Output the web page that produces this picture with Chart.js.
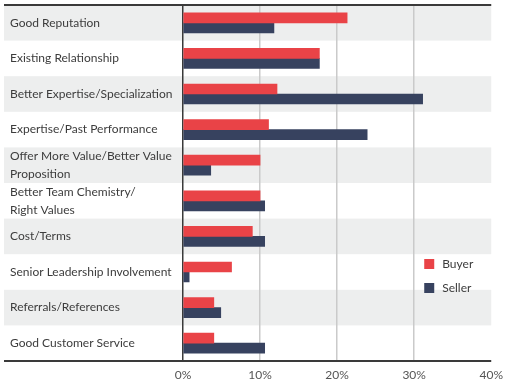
<!DOCTYPE html>
<html>
<head>
<meta charset="utf-8">
<script src="https://cdn.jsdelivr.net/npm/chart.js@4"></script>
<style>
  html, body { margin: 0; padding: 0; background: #fff; }
  #wrap { width: 510px; height: 386px; }
</style>
</head>
<body>
<div id="wrap"><canvas id="chart"></canvas></div>
<script>
const CATEGORIES = [
  'Good Reputation',
  'Existing Relationship',
  'Better Expertise/Specialization',
  'Expertise/Past Performance',
  ['Offer More Value/Better Value', 'Proposition'],
  ['Better Team Chemistry/', 'Right Values'],
  'Cost/Terms',
  'Senior Leadership Involvement',
  'Referrals/References',
  'Good Customer Service',
];
const BUYER  = [21.3, 17.7, 12.2, 11.1, 10.0, 10.0, 9.0, 6.3, 4.0, 4.0];
const SELLER = [11.8, 17.7, 31.1, 23.9, 3.6, 10.6, 10.6, 0.8, 4.9, 10.6];
const X_TICKS = [0, 10, 20, 30, 40];

const RED   = '#e94347';
const NAVY  = '#37425f';
const BAND  = '#edeeee';
const LINE  = '#3a3a3a';
const TEXT  = '#3c3c3c';
const FONT  = { family: 'Lato', size: 12 };

// alternating grey row bands + frame lines
const bandsPlugin = {
  id: 'bands',
  beforeDraw(chart) {
    const { ctx, chartArea, scales } = chart;
    const y = scales.y;
    const step = y.height / CATEGORIES.length;
    ctx.save();
    ctx.fillStyle = BAND;
    CATEGORIES.forEach((c, i) => {
      if (i % 2 === 0) {
        const cy = y.getPixelForValue(i);
        ctx.fillRect(4, cy - step / 2, chartArea.right - 4, step);
      }
    });
    ctx.restore();
  },
  afterDraw(chart) {
    const { ctx, chartArea } = chart;
    ctx.save();
    ctx.strokeStyle = LINE;
    ctx.lineWidth = 2;
    ctx.beginPath();
    ctx.moveTo(4, chartArea.top);
    ctx.lineTo(chartArea.right, chartArea.top);
    ctx.moveTo(4, chartArea.bottom);
    ctx.lineTo(chartArea.right, chartArea.bottom);
    ctx.stroke();
    ctx.restore();
  },
};

// small legend inside the plot, lower right
const legendPlugin = {
  id: 'innerLegend',
  afterDraw(chart) {
    const { ctx, chartArea } = chart;
    const x = chartArea.right - 67;
    ctx.save();
    ctx.font = `${FONT.size}px ${FONT.family}`;
    ctx.textBaseline = 'middle';
    chart.data.datasets.forEach((ds, i) => {
      const top = chartArea.top + 254 + i * 24;
      ctx.fillStyle = ds.backgroundColor;
      ctx.fillRect(x, top, 10, 10);
      ctx.fillStyle = TEXT;
      ctx.fillText(ds.label, x + 18, top + 5);
    });
    ctx.restore();
  },
};

new Chart(document.getElementById('chart'), {
  type: 'bar',
  data: {
    labels: CATEGORIES,
    datasets: [
      { label: 'Buyer',  data: BUYER,  backgroundColor: RED,  barThickness: 10 },
      { label: 'Seller', data: SELLER, backgroundColor: NAVY, barThickness: 10 },
    ],
  },
  options: {
    indexAxis: 'y',
    responsive: true,
    maintainAspectRatio: false,
    animation: false,
    layout: { padding: { left: 10, top: 5, right: 18, bottom: 3 } },
    plugins: {
      legend: { display: false },
      tooltip: { enabled: false },
    },
    scales: {
      x: {
        min: 0,
        max: 40,
        afterBuildTicks: s => { s.ticks = X_TICKS.map(v => ({ value: v })); },
        afterFit: s => { s.height = 22; },
        border: { display: false },
        grid: {
          drawTicks: false,
          lineWidth: 1.5,
          color: c => (c.tick && c.tick.value > 0 && c.tick.value < 40) ? '#cacaca' : 'rgba(0,0,0,0)',
        },
        ticks: { color: '#555', font: { family: 'Lato', size: 12, lineHeight: 1.2 }, padding: 7, callback: v => v + '%' },
      },
      y: {
        afterFit: s => { s.width = 173; s.paddingTop = 0; s.paddingBottom = 0; },
        border: { display: true, color: LINE, width: 1.5 },
        grid: { display: false },
        ticks: {
          color: TEXT,
          font: { family: 'Lato', size: 12, lineHeight: 1.5 },
          crossAlign: 'far',
          padding: 0,
          autoSkip: false,
        },
      },
    },
  },
  plugins: [bandsPlugin, legendPlugin],
});
</script>
</body>
</html>
